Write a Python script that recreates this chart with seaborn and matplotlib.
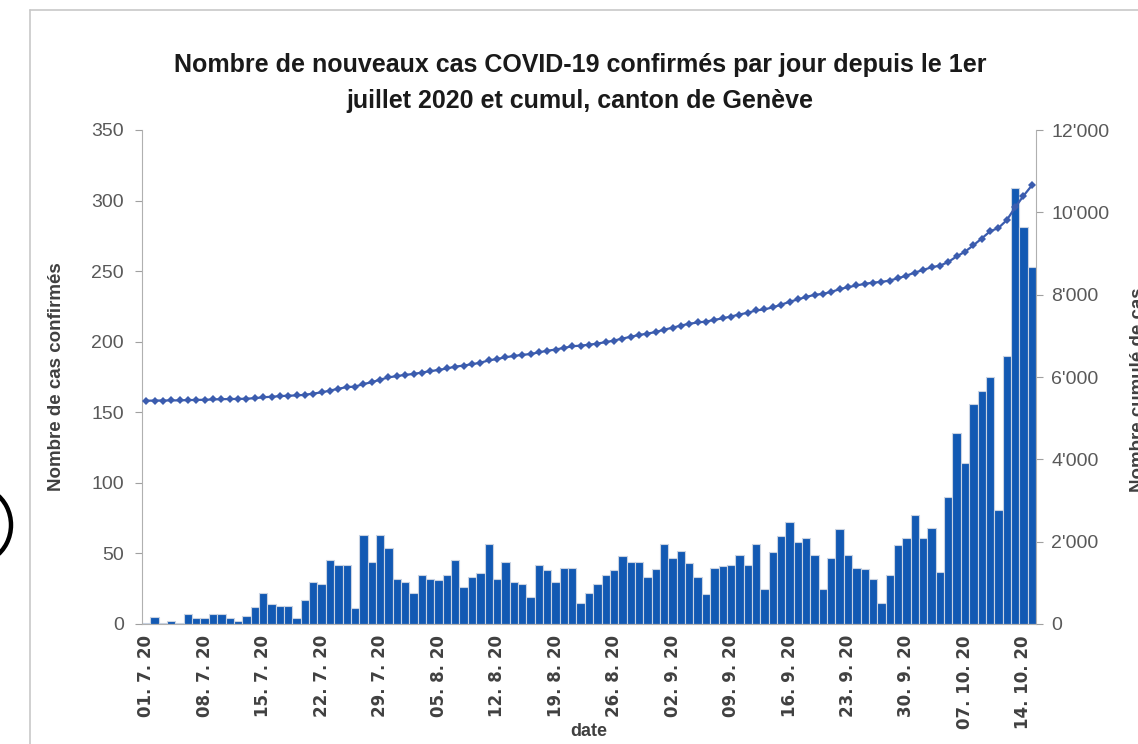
import numpy as np
import pandas as pd
import matplotlib
matplotlib.use("Agg")
import matplotlib.pyplot as plt
from matplotlib.lines import Line2D
from matplotlib.patches import Arc
from matplotlib.transforms import IdentityTransform
from matplotlib.ticker import FuncFormatter
import seaborn as sns

# daily new confirmed cases, 01.07.2020 -> 15.10.2020
daily_cases = [
    1, 5, 1, 2, 1, 7, 4, 4, 7, 7,
    4, 2, 6, 12, 22, 14, 13, 13, 4, 17,
    30, 28, 45, 42, 42, 11, 63, 44, 63, 54,
    32, 30, 22, 35, 32, 31, 35, 45, 26, 33,
    36, 57, 32, 44, 30, 28, 19, 42, 38, 30,
    40, 40, 15, 22, 28, 35, 38, 48, 44, 44,
    33, 39, 57, 47, 52, 43, 33, 21, 40, 41,
    42, 49, 42, 57, 25, 51, 62, 72, 58, 61,
    49, 25, 47, 67, 49, 40, 39, 32, 15, 35,
    56, 61, 77, 61, 68, 37, 90, 135, 114, 156,
    165, 175, 81, 190, 309, 281, 253,
]
# cumulative total on 01.07
cumul_start = 5423

dates = pd.date_range("2020-07-01", periods=len(daily_cases), freq="D")
tick_idx = list(range(0, len(daily_cases), 7))
tick_labels = [dates[i].strftime("%d. ") + str(dates[i].month) + ". 20" for i in tick_idx]

df = pd.DataFrame({
    "pos": np.arange(len(daily_cases)),
    "cas": daily_cases,
})
# running total of the daily cases
df["cumul"] = cumul_start + np.cumsum(df["cas"]) - df["cas"].iloc[0]

sns.set_style("white")
plt.rcParams["font.family"] = ["Liberation Sans", "DejaVu Sans"]

fig = plt.figure(figsize=(11.38, 7.44), dpi=100)
ax = fig.add_axes([142 / 1138, 1 - 624 / 744, (1036 - 142) / 1138, (624 - 130) / 744])

bar_blue = "#1259b3"
sns.barplot(data=df, x="pos", y="cas", color=bar_blue, width=1.0, saturation=1,
            edgecolor="#c9d3e2", linewidth=0.8, ax=ax)
ax.set_xlim(-0.5, len(daily_cases) - 0.5)
ax.set_ylim(0, 350)
ax.set_yticks(range(0, 351, 50))

ax2 = ax.twinx()
sns.lineplot(data=df, x="pos", y="cumul", color="#3b5cae", marker="D", markersize=3.6,
             markeredgewidth=0, linewidth=1.6, ax=ax2)
ax2.set_ylim(0, 12000)
ax2.set_yticks(range(0, 12001, 2000))
ax2.yaxis.set_major_formatter(FuncFormatter(lambda v, p: f"{int(v):,}".replace(",", "'")))
ax2.set_xlim(-0.5, len(daily_cases) - 0.5)

# labels centred on the day, tick marks on the boundaries
ax.set_xticks(tick_idx)
ax.set_xticklabels(tick_labels, rotation=90, fontsize=12, fontweight="bold",
                   color="#404040", family=["DejaVu Sans"])
ax.set_xticks([i - 0.5 for i in tick_idx], minor=True)
ax.tick_params(axis="x", which="major", length=0, pad=8)
ax.tick_params(axis="x", which="minor", length=5, color="#a0a0a0", width=1)
ax.tick_params(axis="y", length=5, color="#a0a0a0", labelsize=14, labelcolor="#595959", pad=8)
ax.yaxis.set_ticks_position("left")
ax2.tick_params(axis="y", length=5, color="#a0a0a0", labelsize=14, labelcolor="#595959", pad=6)
ax2.set_ylabel("")
ax.set_xlabel("date", fontsize=13, fontweight="bold", color="#404040", labelpad=-4)
ax.set_ylabel("Nombre de cas confirmés", fontsize=13.5, fontweight="bold", color="#404040", labelpad=19)

for a in (ax, ax2):
    a.spines["top"].set_visible(False)
    for side in ("left", "right", "bottom"):
        a.spines[side].set_color("#b0b0b0")
ax.spines["right"].set_visible(False)
ax2.spines["left"].set_visible(False)
ax2.spines["bottom"].set_visible(False)

# right axis title, cut by the edge of the screenshot as in the original
fig.text(1130 / 1138, 1 - 390 / 744, "Nombre cumulé de cas", rotation=90, ha="left", va="center",
         fontsize=13.5, fontweight="bold", color="#404040")

fig.text(580 / 1138, 1 - 65 / 744, "Nombre de nouveaux cas COVID-19 confirmés par jour depuis le 1er",
         ha="center", va="center", fontsize=18, fontweight="bold", color="#1a1a1a")
fig.text(580 / 1138, 1 - 101 / 744, "juillet 2020 et cumul, canton de Genève",
         ha="center", va="center", fontsize=18, fontweight="bold", color="#1a1a1a")

# chart-area frame of the screenshot
fig.add_artist(Line2D([30 / 1138, 1], [1 - 10 / 744, 1 - 10 / 744], color="#c8c8c8", lw=1.2))
fig.add_artist(Line2D([30 / 1138, 30 / 1138], [0, 1 - 10 / 744], color="#c8c8c8", lw=1.2))
# bracket fragment at the left edge of the screenshot
fig.add_artist(Arc((-24, 744 - 525), 70, 76, theta1=-60, theta2=60, lw=3.2, color="black",
                   transform=IdentityTransform()))

fig.savefig("out.png", dpi=100)
